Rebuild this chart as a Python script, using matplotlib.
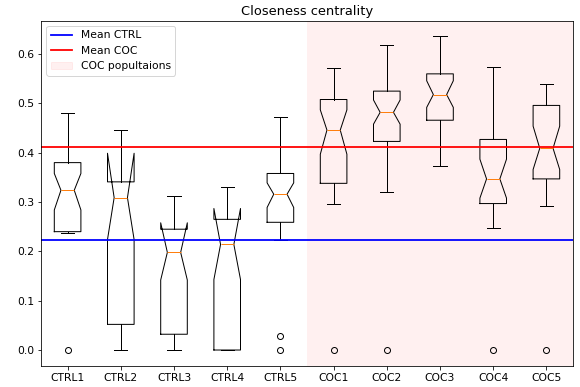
import matplotlib
matplotlib.use("Agg")
import matplotlib.pyplot as plt
from matplotlib.lines import Line2D
from matplotlib.patches import Patch

labels = ["CTRL1", "CTRL2", "CTRL3", "CTRL4", "CTRL5",
          "COC1", "COC2", "COC3", "COC4", "COC5"]
whislo = [0.2365, 0.000, 0.000, 0.000, 0.2236, 0.297, 0.321, 0.374, 0.248, 0.292]
q1     = [0.240, 0.052, 0.032, 0.000, 0.259, 0.338, 0.423, 0.466, 0.297, 0.347]
cilo   = [0.284, 0.224, 0.142, 0.143, 0.289, 0.397, 0.458, 0.492, 0.308, 0.366]
med    = [0.324, 0.309, 0.198, 0.214, 0.316, 0.446, 0.482, 0.518, 0.347, 0.409]
cihi   = [0.358, 0.399, 0.258, 0.287, 0.339, 0.487, 0.507, 0.546, 0.387, 0.454]
q3     = [0.380, 0.341, 0.245, 0.265, 0.358, 0.508, 0.525, 0.560, 0.427, 0.496]
whishi = [0.481, 0.446, 0.312, 0.331, 0.473, 0.572, 0.619, 0.636, 0.574, 0.539]
fliers = [[0.0], [], [], [], [0.0, 0.028], [0.0], [0.0], [], [0.0], [0.0]]

mean_ctrl = 0.223
mean_coc = 0.412

plt.rcParams["font.size"] = 10.8
plt.rcParams["axes.titlesize"] = 13

stats = []
for i, lab in enumerate(labels):
    stats.append(dict(label=lab, whislo=whislo[i], q1=q1[i], cilo=cilo[i], med=med[i],
                      cihi=cihi[i], q3=q3[i], whishi=whishi[i], fliers=fliers[i]))

fig = plt.figure(figsize=(580 / 72, 387 / 72), dpi=72)
ax = fig.add_axes([41 / 580, 1 - 365.7 / 387, 532 / 580, 345 / 387])
ax.axvspan(5.5, 10.5, color="red", alpha=0.06, lw=0)
ax.bxp(stats, shownotches=True)
ax.axhline(mean_ctrl, color="blue", lw=1.8)
ax.axhline(mean_coc, color="red", lw=1.8)
ax.set_xlim(0.5, 10.5)
ax.set_title("Closeness centrality")

handles = [Line2D([], [], color="blue", lw=1.8, label="Mean CTRL"),
           Line2D([], [], color="red", lw=1.8, label="Mean COC"),
           Patch(color="red", alpha=0.06, label="COC popultaions")]
ax.legend(handles=handles, loc="upper left")

fig.savefig("out.png", dpi=72)
